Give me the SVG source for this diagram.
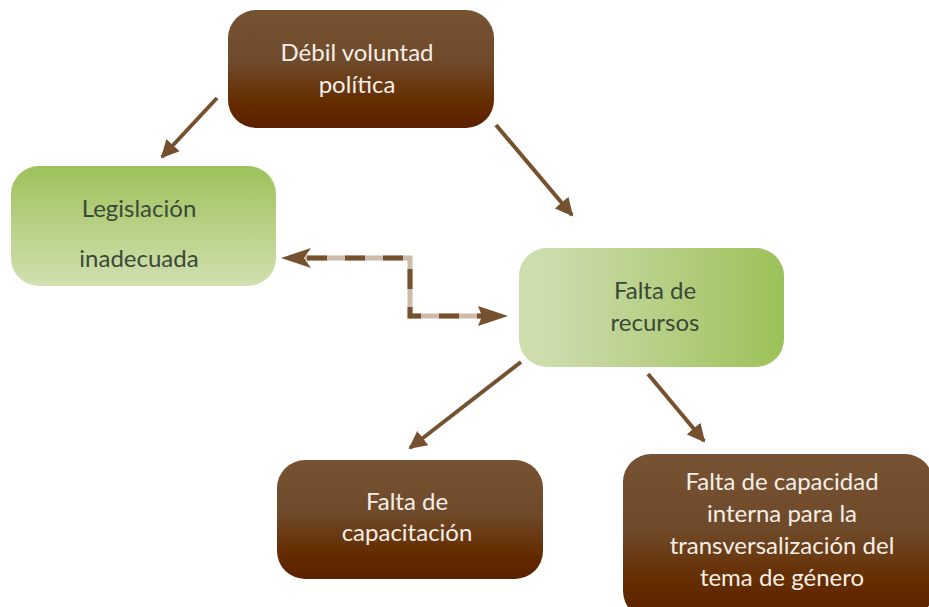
<svg xmlns="http://www.w3.org/2000/svg" width="929" height="607" viewBox="0 0 929 607">
<defs>
<linearGradient id="brown" x1="0" y1="0" x2="0" y2="1">
<stop offset="0" stop-color="#765233"/>
<stop offset="0.45" stop-color="#6f4a2a"/>
<stop offset="0.78" stop-color="#652c00"/>
<stop offset="1" stop-color="#5a2000"/>
</linearGradient>
<linearGradient id="greenV" x1="0" y1="0" x2="0" y2="1">
<stop offset="0" stop-color="#9dc25a"/>
<stop offset="1" stop-color="#d1e0b0"/>
</linearGradient>
<linearGradient id="greenH" x1="0" y1="0" x2="1" y2="0">
<stop offset="0" stop-color="#cfdeaf"/>
<stop offset="0.15" stop-color="#cbdba9"/>
<stop offset="1" stop-color="#9cc159"/>
</linearGradient>
<marker id="ah" viewBox="0 0 10 10" refX="9" refY="5" markerWidth="4.5" markerHeight="4.5" markerUnits="strokeWidth" orient="auto">
<path d="M0,0 L10,5 L0,10 z" fill="#76512f"/>
</marker>
</defs>
<style>
.bt{font-family:Lato,"Open Sans","Liberation Sans",sans-serif;font-size:24px;fill:#f4efe8;text-anchor:middle}
.gt{font-family:Lato,"Open Sans","Liberation Sans",sans-serif;font-size:24px;fill:#3b4838;text-anchor:middle}
.arr{stroke:#76512f;stroke-width:4;fill:none}
</style>
<g id="connectors">
<line class="arr" x1="217" y1="98" x2="162" y2="157" marker-end="url(#ah)"/>
<line class="arr" x1="496" y1="125" x2="572" y2="215" marker-end="url(#ah)"/>
<line class="arr" x1="521" y1="362" x2="410" y2="448" marker-end="url(#ah)"/>
<line class="arr" x1="648" y1="374" x2="704" y2="441" marker-end="url(#ah)"/>
<path d="M305,258 H410 V316 H482" fill="none" stroke="#cbbba8" stroke-width="5"/>
<path d="M305,258 H410 V316 H482" fill="none" stroke="#76512f" stroke-width="5" stroke-dasharray="20 18" stroke-dashoffset="-2"/>
<path d="M281,258 L311,248 L304,258 L311,268 z" fill="#76512f"/>
<path d="M508,316 L478,306 L482,316 L478,326 z" fill="#76512f"/>
</g>
<g id="n1">
<rect x="228" y="10" width="266" height="118" rx="28" fill="url(#brown)"/>
<text class="bt" x="357" y="61">Débil voluntad</text>
<text class="bt" x="357" y="93">política</text>
</g>
<g id="n2">
<rect x="11" y="166" width="265" height="120" rx="28" fill="url(#greenV)"/>
<text class="gt" x="139" y="217">Legislación</text>
<text class="gt" x="139" y="267">inadecuada</text>
</g>
<g id="n3">
<rect x="519" y="248" width="265" height="119" rx="28" fill="url(#greenH)"/>
<text class="gt" x="655" y="299">Falta de</text>
<text class="gt" x="655" y="331">recursos</text>
</g>
<g id="n4">
<rect x="277" y="460" width="266" height="119" rx="28" fill="url(#brown)"/>
<text class="bt" x="407" y="510">Falta de</text>
<text class="bt" x="407" y="541">capacitación</text>
</g>
<g id="n5">
<rect x="623" y="454" width="310" height="165" rx="28" fill="url(#brown)"/>
<text class="bt" x="782" y="490">Falta de capacidad</text>
<text class="bt" x="782" y="522">interna para la</text>
<text class="bt" x="782" y="554">transversalización del</text>
<text class="bt" x="782" y="586">tema de género</text>
</g>
</svg>
